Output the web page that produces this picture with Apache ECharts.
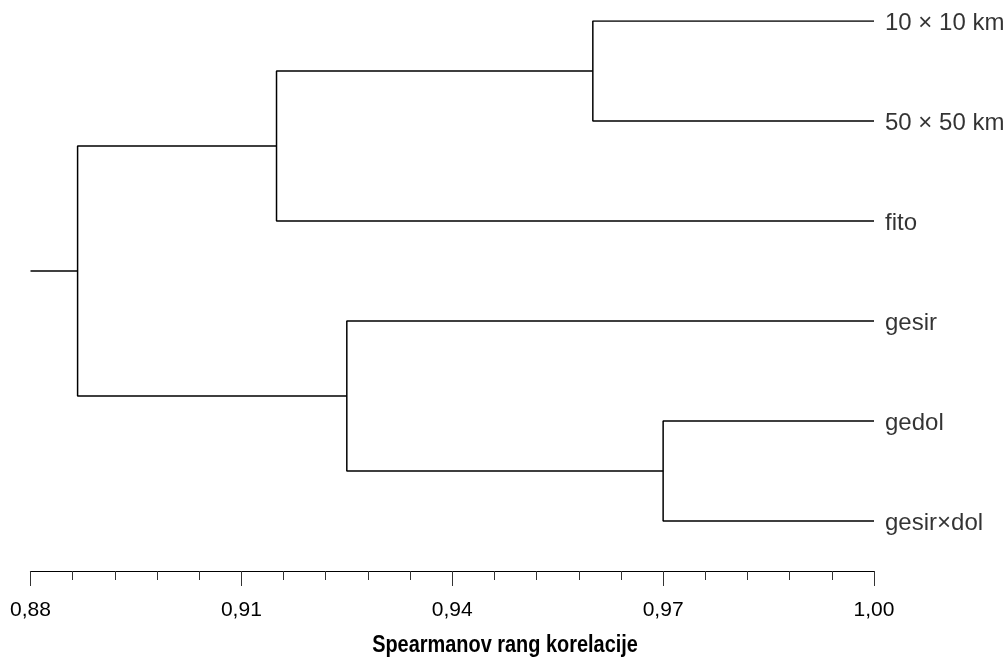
<!DOCTYPE html>
<html>
<head>
<meta charset="utf-8">
<script src="https://cdn.jsdelivr.net/npm/echarts@6/dist/echarts.min.js"></script>
<style>
  html, body { margin: 0; padding: 0; background: #fff; }
  #main { width: 1006px; height: 657px; }
</style>
</head>
<body>
<div id="main"></div>
<script>
// leaves, top to bottom
var leafNames = ['10 × 10 km', '50 × 50 km', 'fito', 'gesir', 'gedol', 'gesir×dol'];
// merges: [childA, childB, correlation]  (ids 0-5 leaves, 6+ clusters in order)
var mergeA = [0, 4, 6, 3, 8];
var mergeB = [1, 5, 2, 7, 9];
var mergeH = [0.960, 0.970, 0.915, 0.925, 0.8867];
var xTicks = [0.88, 0.91, 0.94, 0.97, 1.00];
var axisTitle = 'Spearmanov rang korelacije';

var chart = echarts.init(document.getElementById('main'));

// node positions: x = correlation, y = leaf slot
var nodeX = [], nodeY = [];
leafNames.forEach(function (n, i) {
  nodeX.push(1.0);
  nodeY.push(i);
});
var series = [];
function seg(points) {
  series.push({
    type: 'line',
    data: points,
    symbol: 'none',
    silent: true,
    lineStyle: { color: '#000', width: 1.5 },
    animation: false
  });
}
for (var k = 0; k < mergeH.length; k++) {
  var a = mergeA[k], b = mergeB[k], h = mergeH[k];
  seg([[nodeX[a], nodeY[a]], [h, nodeY[a]], [h, nodeY[b]], [nodeX[b], nodeY[b]]]);
  nodeX.push(h);
  nodeY.push((nodeY[a] + nodeY[b]) / 2);
}
// root stub
var root = nodeX.length - 1;
seg([[xTicks[0], nodeY[root]], [nodeX[root], nodeY[root]]]);

// leaf labels
series.push({
  type: 'scatter',
  symbolSize: 0,
  silent: true,
  animation: false,
  data: leafNames.map(function (n, i) { return [1.0, i, n]; }),
  label: {
    show: true,
    position: 'right',
    distance: 11,
    offset: [0, 2],
    formatter: function (p) { return p.data[2]; },
    fontFamily: 'Liberation Sans',
    fontSize: 24,
    color: '#000'
  }
});

var option = {
  backgroundColor: '#fff',
  grid: { left: 30.5, right: 132, top: 21, height: 550 },
  xAxis: {
    type: 'value',
    min: xTicks[0],
    max: xTicks[xTicks.length - 1],
    interval: 0.03,
    axisLine: { onZero: false, lineStyle: { color: '#000', width: 1.2 } },
    axisTick: { length: 15, lineStyle: { color: '#333', width: 1 } },
    minorTick: { show: true, splitNumber: 5, length: 9, lineStyle: { color: '#333', width: 1 } },
    splitLine: { show: false },
    axisLabel: {
      margin: 29,
      fontFamily: 'Liberation Sans',
      fontSize: 21,
      color: '#000',
      formatter: function (v) { return v.toFixed(2).replace('.', ','); }
    }
  },
  yAxis: {
    type: 'value',
    min: 0,
    max: 5.5,
    inverse: true,
    show: false
  },
  // axis title, condensed bold
  graphic: [{
    type: 'text',
    x: 505,
    y: 645,
    scaleX: 0.83,
    silent: true,
    style: {
      text: axisTitle,
      font: 'bold 24px "Liberation Sans"',
      fill: '#000',
      align: 'center',
      verticalAlign: 'middle'
    }
  }],
  series: series
};
chart.setOption(option);
</script>
</body>
</html>
